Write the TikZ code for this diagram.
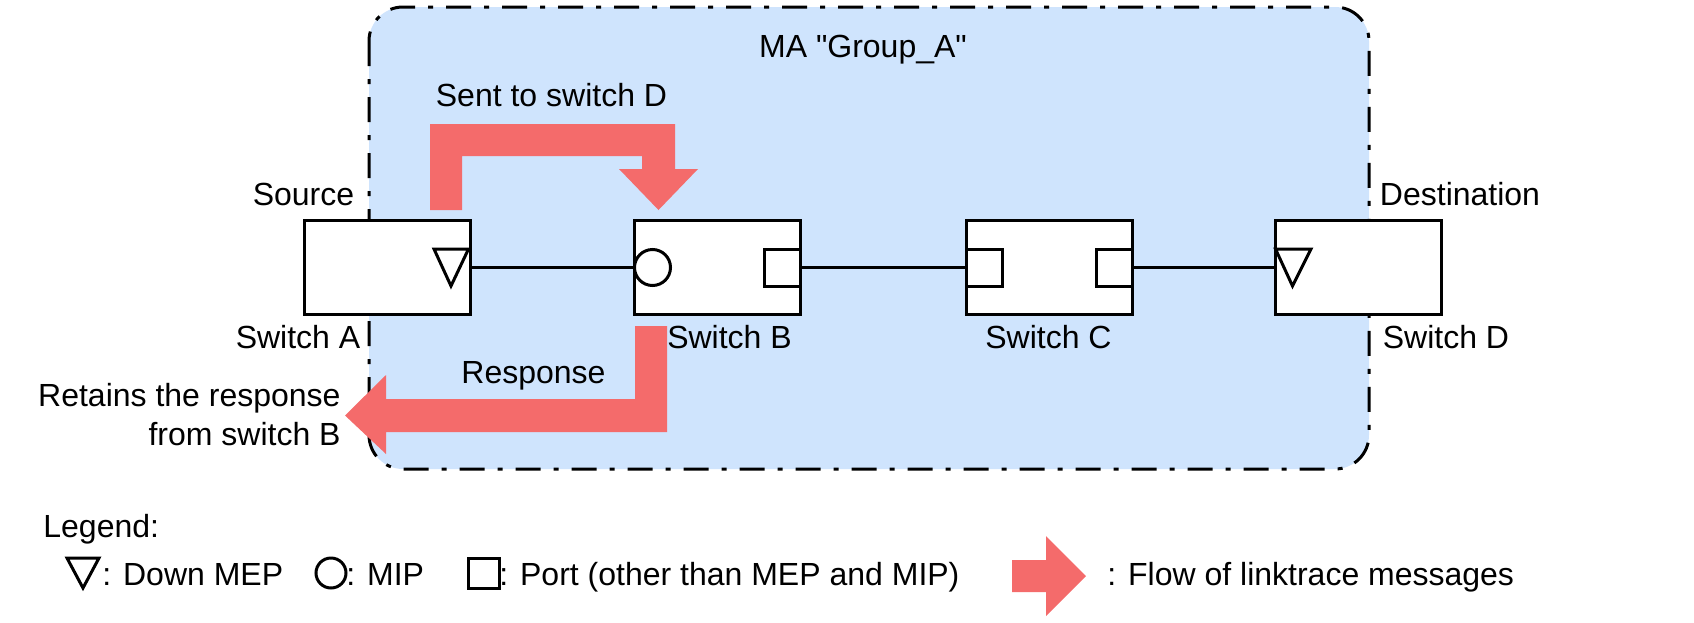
\documentclass[tikz,border=0pt]{standalone}
\usepackage{fontspec}
\setmainfont{Liberation Sans}[Ligatures=TeXOff]
\definecolor{mablue}{RGB}{207,228,253}
\definecolor{flowred}{RGB}{244,107,107}
\begin{document}
\begin{tikzpicture}[x=0.5pt,y=-0.5pt,
  font=\fontsize{16}{19.5}\selectfont,
  sw/.style={draw, line width=1.5pt, fill=white, minimum width=83pt, minimum height=47pt, inner sep=0},
  sqport/.style={draw, line width=1.5pt, fill=white, inner sep=0, minimum width=18pt, minimum height=18.5pt},
  mipport/.style={draw, circle, line width=1.5pt, fill=white, inner sep=0, minimum size=18pt},
  mep/.style={draw, line width=1.5pt, fill=white, line join=miter},
  link/.style={line width=1.5pt},
  flow/.style={fill=flowred, draw=none},
  lbl/.style={inner sep=0, anchor=base},
  madash/.style={line width=1.5pt, dash pattern=on 12.5pt off 6.5pt on 2.5pt off 6.5pt}]
\useasboundingbox (0,0) rectangle (1694,622);
% MA domain
\draw[madash, fill=mablue, rounded corners=17pt] (369,7) rectangle (1369,469);
\node[lbl] (ma) at (863,57) {MA "Group\_A"};
% switches
\node[sw] (A) at (387,267) {};
\node[sw] (B) at (717.5,267) {};
\node[sw] (C) at (1049.5,267) {};
\node[sw] (D) at (1358,267) {};
% links
\draw[link] (A.east) -- (B.west);
\draw[link] (B.east) -- (C.west);
\draw[link] (C.east) -- (D.west);
% ports
\draw[mep] (434,249) -- (468.5,249) -- (451,286) -- cycle;
\node[mipport] (mipB) at (652.5,267.5) {};
\node[sqport] (pB) at (782,267.5) {};
\node[sqport] (pC1) at (984.5,267.5) {};
\node[sqport] (pC2) at (1114.5,267.5) {};
\draw[mep] (1275.5,249) -- (1311,249) -- (1292.5,286) -- cycle;
% labels
\node[lbl] (src) at (303.5,205) {Source};
\node[lbl] (dst) at (1460,205) {Destination};
\node[lbl] (swA) at (298,348) {Switch A};
\node[lbl] (swB) at (729.5,348) {Switch B};
\node[lbl] (swC) at (1048.5,348) {Switch C};
\node[lbl] (swD) at (1446,348) {Switch D};
% flows
\fill[flow] (430,210) -- (430,124) -- (675,124) -- (675,169) -- (698,169) -- (658.5,210)
  -- (619,169) -- (642,169) -- (642,156) -- (462,156) -- (462,210) -- cycle;
\node[lbl] (sent) at (551.5,106) {Sent to switch D};
\fill[flow] (635,326) -- (667,326) -- (667,432) -- (386,432) -- (386,454) -- (345,415.5)
  -- (386,375) -- (386,399) -- (635,399) -- cycle;
\node[lbl] (resp) at (533.5,383) {Response};
\node[lbl, anchor=base east] (ret1) at (341,406) {Retains the response};
\node[lbl, anchor=base east] (ret2) at (341,445) {from switch B};
% legend
\node[lbl, anchor=base west] (leg) at (43,537) {Legend:};
\draw[mep] (67,558) -- (99,558) -- (83,588) -- cycle;
\node[lbl, anchor=base west] (legmep) at (102,585) {: Down MEP};
\node[mipport, minimum size=15pt] (legmip) at (331,573) {};
\node[lbl, anchor=base west] (legmiptxt) at (346,585) {: MIP};
\node[sqport, minimum width=15.5pt, minimum height=15pt] (legport) at (483.5,573) {};
\node[lbl, anchor=base west] (legporttxt) at (499,585) {: Port (other than MEP and MIP)};
\fill[flow] (1012,560) -- (1046,560) -- (1046,536) -- (1086,576) -- (1046,616) -- (1046,592) -- (1012,592) -- cycle;
\node[lbl, anchor=base west] (legflow) at (1107,585) {: Flow of linktrace messages};
\end{tikzpicture}
\end{document}
